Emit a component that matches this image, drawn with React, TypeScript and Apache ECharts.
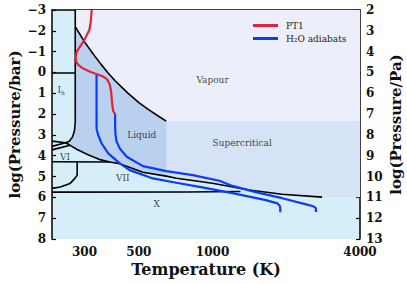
import React, { useEffect, useRef } from 'react';
import * as echarts from 'echarts';

// ---------- data ----------
const T_MIN = 221;
const T_MAX = 4000;
const P_MIN = -3;
const P_MAX = 8;

const tempTickValues = [300, 400, 500, 600, 700, 800, 900, 1000, 2000, 3000];
const tempLabelValues = [300, 500, 1000, 4000];

// saturation (liquid-vapour) curve [T (K), log P (bar)]
const vaporization = [
  [275, -2.2], [300, -1.47], [325, -0.9], [350, -0.4], [373, 0.0], [400, 0.4],
  [450, 0.98], [500, 1.45], [550, 1.8], [600, 2.09], [647, 2.34],
];
// ice Ih melting curve
const iceIhMelt = [
  [275, -3], [275, -2.2], [275, 2.4], [273, 2.8], [268, 3.1], [260, 3.3], [251, 3.38],
];
// high-pressure ice melting curve (III/V/VI/VII - liquid/supercritical)
const iceHighMelt = [
  [251, 3.38], [262, 3.5], [280, 3.7], [310, 3.95], [350, 4.2], [380, 4.3], [418, 4.38],
  [519, 4.79], [647, 4.98], [713, 5.08], [998, 5.32], [1412, 5.65], [1923, 5.85], [2800, 5.99],
];
const iceIIIline = [[221, 3.3], [251, 3.38]];
const iceIIline = [[221, 3.55], [251, 3.38]];
const iceVline = [[221, 3.72], [262, 3.5]];
const iceVI_VII = [[221, 4.29], [380, 4.3]];
const iceVIIlow = [
  [280, 4.29], [280, 4.93], [274, 5.09], [262, 5.33], [239, 5.5], [221, 5.57],
];
const iceVII_X = [[221, 5.75], [800, 5.74], [1300, 5.72]];
const supercriticalFloor = 6.0;

// PT1 profile
const pt1 = [
  [321, -3], [318, -2.4], [314, -2.04], [305, -1.75], [297, -1.48], [286, -1.2],
  [279, -1.0], [276, -0.75], [278, -0.5], [283, -0.36], [295, -0.2], [316, -0.03],
  [340, 0.1], [358, 0.2], [372, 0.35], [381, 0.6], [385, 0.9], [387, 1.17],
  [390, 1.6], [393, 1.85], [400, 2.0],
];
// H2O adiabats
const adiabatWarm = [
  [400, 2.0], [400, 2.5], [401, 2.93], [405, 3.3], [418, 3.65], [446, 4.05],
  [520, 4.5], [647, 4.74], [830, 4.93], [1067, 5.2], [1205, 5.45], [1500, 5.75],
  [1923, 6.04], [2477, 6.37], [2600, 6.45], [2640, 6.52], [2645, 6.7],
];
const adiabatCold = [
  [336, 0.12], [336, 2.7], [341, 3.0], [352, 3.4], [375, 3.89], [418, 4.37],
  [459, 4.69], [571, 5.09], [711, 5.3], [885, 5.5], [1205, 5.8], [1652, 6.13],
  [1841, 6.29], [1880, 6.4], [1890, 6.5], [1890, 6.72],
];

const regionLabels = [
  { name: 'Vapour', T: 1000, P: 0.37 },
  { name: 'Liquid', T: 514, P: 3.01 },
  { name: 'Supercritical', T: 1321, P: 3.39 },
  { name: 'VII', T: 430, P: 5.08 },
  { name: 'X', T: 591, P: 6.33 },
  { name: 'VI', T: 250, P: 4.07 },
  { name: 'Ih', T: 241, P: 0.85 },
];

// ---------- helpers ----------
const lg = (v: number) => Math.log10(v);
const toXY = (arr: number[][]) => arr.map(([t, p]) => [lg(t), p]);

const vapourPoly = [[275, P_MIN], ...vaporization, [T_MAX, 2.34], [T_MAX, P_MIN]];
const liquidPoly = [
  ...vaporization,
  ...iceHighMelt.filter((d) => d[0] <= 647).reverse(),
  ...iceIhMelt.filter((d) => d[1] > -2.2).reverse(),
];
const superPoly = [
  [647, 2.34], [T_MAX, 2.34], [T_MAX, supercriticalFloor],
  ...iceHighMelt.filter((d) => d[0] >= 647).reverse(),
];

const SERIF = '"DejaVu Serif", serif';

function polySeries(poly: number[][], color: string) {
  return {
    type: 'custom',
    coordinateSystem: 'cartesian2d',
    silent: true,
    clip: true,
    z: 1,
    data: [[lg(T_MIN), P_MIN]],
    renderItem: (_p: any, api: any) => ({
      type: 'polygon',
      shape: { points: poly.map(([t, p]) => api.coord([lg(t), p])) },
      style: { fill: color, stroke: null },
    }),
  };
}

function blackLine(arr: number[][]) {
  return {
    type: 'line',
    data: toXY(arr),
    showSymbol: false,
    silent: true,
    z: 3,
    lineStyle: { color: '#000', width: 1.6 },
  };
}

export default function App() {
  const ref = useRef<HTMLDivElement>(null);
  useEffect(() => {
    if (!ref.current) return;
    const chart = echarts.init(ref.current, undefined, { renderer: 'svg' });
    const yFmt = (v: number) => (v < 0 ? '\u2212' + -v : String(v));
    const titleStyle = { fontFamily: SERIF, fontSize: 15, fontWeight: 'bold', color: '#111' };
    const xAxisCommon = {
      type: 'value',
      min: lg(T_MIN),
      max: lg(T_MAX),
      axisLine: { show: true, lineStyle: { color: '#000', width: 1.5 } },
      axisTick: {
        show: true, inside: true, length: 4,
        customValues: tempTickValues.map(lg),
        lineStyle: { color: '#000', width: 1.2 },
      },
      splitLine: { show: false },
    };
    const yAxisCommon = {
      type: 'value',
      inverse: true,
      interval: 1,
      axisLine: { show: true, lineStyle: { color: '#000', width: 1.5 } },
      axisTick: { show: true, inside: true, length: 4, lineStyle: { color: '#000', width: 1.2 } },
      splitLine: { show: false },
      axisLabel: {
        margin: 6,
        color: '#111',
        fontFamily: SERIF,
        fontWeight: 'bold',
        fontSize: 12,
        formatter: yFmt,
      },
      nameLocation: 'middle',
      nameRotate: 90,
      nameMoveOverlap: false,
      nameTextStyle: titleStyle,
    };
    chart.setOption({
      animation: false,
      backgroundColor: '#fff',
      grid: {
        left: 52, right: 47, top: 10, bottom: 45,
        containLabel: false,
        outerBoundsMode: 'none',
        show: true, backgroundColor: '#d5eef8', borderWidth: 0,
      },
      legend: {
        orient: 'vertical',
        left: 248,
        top: 16,
        itemWidth: 25,
        itemHeight: 3,
        itemGap: 4,
        icon: 'rect',
        data: ['PT1', 'H\u2082O adiabats'],
        textStyle: { fontFamily: SERIF, fontSize: 9, color: '#222', padding: [0, 0, 0, 3] },
      },
      xAxis: [
        {
          ...xAxisCommon,
          position: 'bottom',
          name: 'Temperature (K)',
          nameLocation: 'middle',
          nameGap: 22,
          nameMoveOverlap: false,
          nameTextStyle: { ...titleStyle, fontSize: 16, verticalAlign: 'top' },
          axisLabel: {
            show: true, margin: 7, color: '#111', fontFamily: SERIF, fontWeight: 'bold', fontSize: 12,
            customValues: tempLabelValues.map(lg),
            formatter: (v: number) => String(Math.round(Math.pow(10, v) / 10) * 10),
          },
        },
        { ...xAxisCommon, position: 'top', axisLabel: { show: false } },
      ],
      yAxis: [
        { ...yAxisCommon, position: 'left', min: P_MIN, max: P_MAX, name: 'log(Pressure/bar)', nameGap: 30 },
        { ...yAxisCommon, position: 'right', min: P_MIN + 5, max: P_MAX + 5, name: 'log(Pressure/Pa)', nameGap: 28 },
      ],
      series: [
        polySeries(vapourPoly, '#eceff9'),
        polySeries(superPoly, '#d6e2f6'),
        polySeries(liquidPoly, '#b9d0ee'),
        blackLine(iceIhMelt),
        blackLine(vaporization),
        blackLine(iceHighMelt),
        blackLine(iceIIIline),
        blackLine(iceIIline),
        blackLine(iceVline),
        blackLine(iceVI_VII),
        blackLine(iceVIIlow),
        blackLine(iceVII_X),
        {
          name: 'H\u2082O adiabats', type: 'line', data: toXY(adiabatCold), showSymbol: false, z: 4,
          itemStyle: { color: '#0b3cf7' }, lineStyle: { color: '#0b3cf7', width: 2.2 },
        },
        {
          name: 'H\u2082O adiabats', type: 'line', data: toXY(adiabatWarm), showSymbol: false, z: 4,
          itemStyle: { color: '#0b3cf7' }, lineStyle: { color: '#0b3cf7', width: 2.2 },
        },
        {
          name: 'PT1', type: 'line', data: toXY(pt1), showSymbol: false, z: 5,
          itemStyle: { color: '#e2233d' }, lineStyle: { color: '#e2233d', width: 2.2 },
        },
        {
          type: 'scatter', symbolSize: 0, silent: true, z: 6,
          data: regionLabels.map((d) => ({ name: d.name, value: [lg(d.T), d.P] })),
          label: {
            show: true, position: 'inside', fontFamily: SERIF, fontSize: 9, color: '#111',
            formatter: (p: any) => (p.name === 'Ih' ? '{a|I}{b|h}' : p.name),
            rich: {
              a: { fontFamily: SERIF, fontSize: 9, color: '#111' },
              b: { fontFamily: SERIF, fontSize: 6, color: '#111', verticalAlign: 'bottom', padding: [4, 0, 0, 0] },
            },
          },
        },
      ],
    });
    return () => chart.dispose();
  }, []);
  return (
    <div
      ref={ref}
      style={{ position: 'absolute', left: 0, top: 0, width: 407, height: 284 }}
    />
  );
}
